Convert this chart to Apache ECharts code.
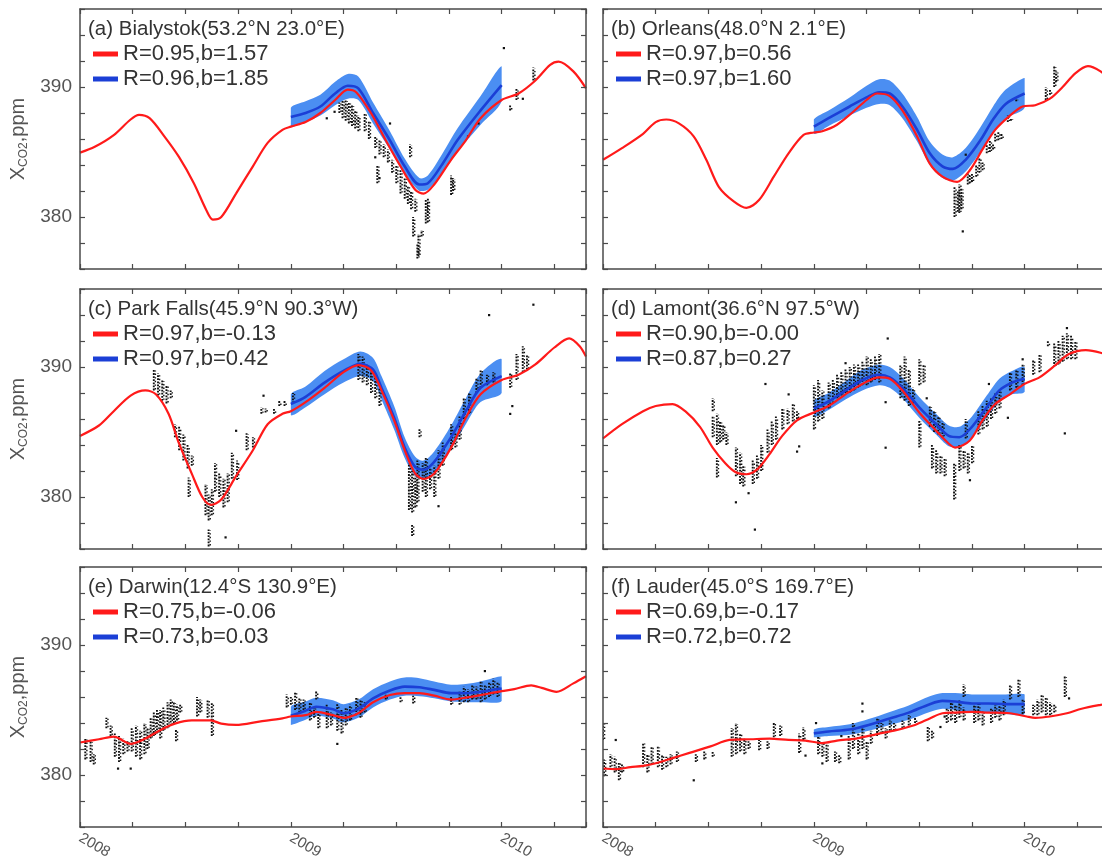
<!DOCTYPE html>
<html>
<head>
  <meta charset="utf-8">
</head>
<body style="margin: 0">
  <div id="container" style="width: 1102px; height: 859px"></div>
  <script src="https://cdn.jsdelivr.net/npm/echarts@6/dist/echarts.min.js"></script>
  <script>
    // panel titles and legend texts
    var titles = ['(a) Bialystok(53.2°N 23.0°E)', '(b) Orleans(48.0°N 2.1°E)', '(c) Park Falls(45.9°N 90.3°W)',
      '(d) Lamont(36.6°N 97.5°W)', '(e) Darwin(12.4°S 130.9°E)', '(f) Lauder(45.0°S 169.7°E)'];
    var redNames = ['R=0.95,b=1.57', 'R=0.97,b=0.56', 'R=0.97,b=-0.13', 'R=0.90,b=-0.00', 'R=0.75,b=-0.06', 'R=0.69,b=-0.17'];
    var blueNames = ['R=0.96,b=1.85', 'R=0.97,b=1.60', 'R=0.97,b=0.42', 'R=0.87,b=0.27', 'R=0.73,b=0.03', 'R=0.72,b=0.72'];
    var yearTicks = [2008, 2009, 2010];
    var ppmTicks = [380, 390];

    // model (red): [year, ppm]
    var redA = [[2008.00,384.95],[2008.07,385.4],[2008.16,386.3],[2008.24,387.5],[2008.28,387.85],[2008.33,387.6],[2008.40,386.2],[2008.47,384.6],[2008.54,382.6],[2008.60,380.5],[2008.63,379.8],[2008.67,380.0],[2008.74,381.8],[2008.82,383.9],[2008.89,385.7],[2008.96,386.7],[2009.00,386.95],[2009.07,387.3],[2009.14,388.0],[2009.21,389.0],[2009.27,389.8],[2009.31,389.6],[2009.38,388.0],[2009.45,385.9],[2009.52,383.9],[2009.59,382.1],[2009.63,381.8],[2009.68,382.5],[2009.76,384.4],[2009.83,385.9],[2009.90,387.6],[2010.00,389.0],[2010.08,389.5],[2010.16,390.5],[2010.23,391.7],[2010.27,391.95],[2010.34,391.2],[2010.40,389.9]];
    var redB = [[2008.00,384.4],[2008.09,385.3],[2008.19,386.4],[2008.25,387.3],[2008.30,387.5],[2008.36,387.2],[2008.43,386.2],[2008.49,384.4],[2008.55,382.3],[2008.62,381.2],[2008.68,380.7],[2008.74,381.3],[2008.81,383.1],[2008.88,384.9],[2008.95,386.3],[2009.00,386.5],[2009.04,386.6],[2009.11,387.1],[2009.18,388.0],[2009.25,389.0],[2009.30,389.5],[2009.36,389.3],[2009.42,388.2],[2009.49,386.2],[2009.55,384.1],[2009.61,383.1],[2009.68,382.7],[2009.74,383.6],[2009.80,385.2],[2009.86,386.7],[2009.93,387.8],[2009.99,388.5],[2010.05,388.6],[2010.12,389.1],[2010.18,390.0],[2010.24,391.05],[2010.30,391.6],[2010.36,391.2],[2010.40,390.6]];
    var redC = [[2008.00,384.7],[2008.09,385.5],[2008.16,386.6],[2008.24,387.8],[2008.31,388.2],[2008.36,387.9],[2008.42,386.4],[2008.47,384.1],[2008.53,381.8],[2008.58,380.0],[2008.62,379.4],[2008.67,379.8],[2008.74,381.6],[2008.82,383.6],[2008.89,385.6],[2008.96,386.4],[2009.00,386.6],[2009.07,387.3],[2009.16,388.4],[2009.25,389.6],[2009.32,390.15],[2009.38,389.75],[2009.43,388.2],[2009.49,385.9],[2009.54,383.6],[2009.59,381.8],[2009.63,381.4],[2009.68,381.8],[2009.76,383.8],[2009.83,386.1],[2009.90,387.9],[2010.00,389.0],[2010.08,389.4],[2010.16,390.2],[2010.25,391.5],[2010.32,392.2],[2010.37,391.6],[2010.40,390.8]];
    var redD = [[2008.00,384.5],[2008.09,385.6],[2008.19,386.6],[2008.25,387.0],[2008.33,387.15],[2008.39,386.6],[2008.46,385.4],[2008.52,383.8],[2008.58,382.6],[2008.63,381.9],[2008.68,381.75],[2008.73,382.1],[2008.79,383.3],[2008.85,384.7],[2008.92,385.9],[2009.00,386.5],[2009.07,387.0],[2009.15,387.9],[2009.23,388.7],[2009.31,389.2],[2009.36,389.1],[2009.42,388.2],[2009.50,386.5],[2009.58,385.1],[2009.64,384.1],[2009.67,383.8],[2009.74,384.35],[2009.80,385.9],[2009.86,387.15],[2009.93,387.9],[2010.00,388.7],[2010.07,389.2],[2010.15,390.2],[2010.21,391.0],[2010.29,391.3],[2010.36,391.1],[2010.40,390.8]];
    var redE = [[2008.00,382.5],[2008.09,382.75],[2008.16,382.95],[2008.24,382.4],[2008.31,382.8],[2008.38,383.45],[2008.45,383.95],[2008.53,384.2],[2008.62,384.2],[2008.67,383.95],[2008.74,383.85],[2008.85,384.1],[2008.96,384.35],[2009.00,384.5],[2009.07,384.6],[2009.12,384.85],[2009.20,384.6],[2009.25,384.4],[2009.32,384.75],[2009.39,385.6],[2009.47,386.15],[2009.54,386.3],[2009.61,386.3],[2009.68,386.1],[2009.76,385.8],[2009.83,385.95],[2009.90,386.15],[2010.00,386.45],[2010.06,386.6],[2010.14,386.9],[2010.19,386.7],[2010.26,386.4],[2010.34,387.05],[2010.40,387.6]];
    var redF = [[2008.00,380.5],[2008.06,380.45],[2008.13,380.6],[2008.19,380.7],[2008.25,380.9],[2008.33,381.3],[2008.41,381.7],[2008.51,382.2],[2008.60,382.7],[2008.70,382.75],[2008.79,382.8],[2008.88,382.7],[2008.96,382.65],[2009.04,382.45],[2009.11,382.65],[2009.20,382.8],[2009.30,383.15],[2009.39,383.45],[2009.48,383.85],[2009.55,384.35],[2009.61,384.75],[2009.67,384.8],[2009.75,384.85],[2009.83,384.8],[2009.93,384.75],[2010.01,384.5],[2010.05,384.4],[2010.12,384.5],[2010.20,384.75],[2010.27,385.1],[2010.36,385.4],[2010.40,385.5]];

    // satellite (blue): [year, ppm, band low, band high]
    var blueA = [[2009.00,387.7,387.0,388.4],[2009.07,388.0,387.3,388.9],[2009.14,388.5,387.8,389.4],[2009.21,389.5,388.6,390.4],[2009.27,390.1,389.1,391.0],[2009.32,389.9,389.0,390.8],[2009.39,388.0,387.2,388.8],[2009.47,385.9,385.2,386.6],[2009.54,383.9,383.3,384.5],[2009.61,382.5,382.0,383.0],[2009.65,382.6,382.1,383.2],[2009.72,384.1,383.4,384.9],[2009.79,385.9,385.0,386.8],[2009.90,388.2,387.1,389.3],[2010.00,390.15,388.9,391.6]];
    var blueB = [[2009.00,386.95,386.4,387.5],[2009.07,387.6,387.0,388.2],[2009.17,388.5,387.8,389.2],[2009.25,389.2,388.4,390.1],[2009.31,389.6,388.7,390.6],[2009.36,389.5,388.6,390.5],[2009.42,388.5,387.6,389.5],[2009.49,386.7,385.8,387.7],[2009.55,384.9,384.0,385.8],[2009.61,383.9,383.0,384.8],[2009.66,383.7,382.8,384.6],[2009.72,384.4,383.5,385.3],[2009.79,385.9,385.0,386.9],[2009.85,387.5,386.5,388.5],[2009.91,388.7,387.6,389.8],[2010.00,389.5,388.4,390.7]];
    var blueC = [[2009.00,387.15,386.3,387.9],[2009.07,387.7,386.9,388.5],[2009.16,388.8,387.9,389.7],[2009.25,389.7,388.8,390.6],[2009.33,390.25,389.3,391.2],[2009.39,389.8,388.9,390.7],[2009.43,388.4,387.5,389.3],[2009.49,386.1,385.2,387.0],[2009.54,383.8,383.0,384.6],[2009.59,382.3,381.6,383.1],[2009.63,382.1,381.4,382.8],[2009.68,382.7,381.9,383.5],[2009.76,384.6,383.7,385.5],[2009.83,386.6,385.6,387.6],[2009.90,388.4,387.3,389.5],[2010.00,389.3,388.0,390.6]];
    var blueD = [[2009.00,386.8,386.2,387.4],[2009.07,387.35,386.7,388.0],[2009.15,388.2,387.5,388.9],[2009.23,389.0,388.2,389.8],[2009.31,389.4,388.6,390.2],[2009.36,389.2,388.4,390.0],[2009.42,388.4,387.6,389.2],[2009.50,386.9,386.1,387.7],[2009.58,385.6,384.8,386.4],[2009.64,384.7,383.9,385.5],[2009.69,384.6,383.8,385.4],[2009.75,385.4,384.6,386.2],[2009.82,386.9,386.1,387.8],[2009.88,388.2,387.3,389.1],[2009.94,388.8,387.9,389.7],[2010.00,389.1,388.1,390.0]];
    var blueE = [[2009.00,384.55,383.85,385.25],[2009.07,384.95,384.25,385.65],[2009.12,385.25,384.55,385.95],[2009.20,385.05,384.35,385.75],[2009.25,384.75,384.05,385.45],[2009.32,385.1,384.4,385.8],[2009.39,385.9,385.2,386.6],[2009.47,386.5,385.8,387.2],[2009.54,386.8,386.1,387.5],[2009.61,386.75,386.05,387.45],[2009.68,386.55,385.9,387.2],[2009.76,386.3,385.65,386.95],[2009.83,386.3,385.6,387.0],[2009.90,386.4,385.6,387.2],[2010.00,386.65,385.7,387.6]];
    var blueF = [[2009.00,383.2,382.9,383.5],[2009.07,383.35,383.0,383.7],[2009.17,383.5,383.1,383.9],[2009.26,383.85,383.4,384.3],[2009.36,384.35,383.85,384.85],[2009.45,384.8,384.25,385.35],[2009.55,385.45,384.85,386.05],[2009.61,385.7,385.1,386.3],[2009.67,385.65,385.0,386.3],[2009.75,385.5,384.8,386.2],[2009.83,385.5,384.8,386.2],[2009.91,385.45,384.7,386.2],[2010.00,385.45,384.7,386.2]];

    // station observations (black): [year, low, high] of each daily streak
    var dotsA = [[2009.17,387.6,387.6],[2009.207,388.1,388.1],[2009.23,388.0,388.8],[2009.245,387.6,389.0],[2009.26,387.4,389.0],[2009.275,387.2,388.8],[2009.29,387.0,388.6],[2009.305,386.8,388.2],[2009.32,386.6,387.8],[2009.35,386.6,388.0],[2009.37,386.0,387.4],[2009.40,385.3,386.2],[2009.42,384.8,386.0],[2009.44,384.6,385.6],[2009.46,384.2,385.2],[2009.40,384.6,384.6],[2009.41,382.6,384.0],[2009.42,383.0,383.0],[2009.47,387.2,387.2],[2009.48,383.4,384.4],[2009.50,382.6,384.0],[2009.52,381.8,383.6],[2009.54,381.4,383.0],[2009.555,381.0,382.4],[2009.57,380.6,382.0],[2009.59,380.4,381.4],[2009.565,384.6,385.6],[2009.58,378.5,380.0],[2009.60,376.8,378.0],[2009.605,377.0,378.7],[2009.64,379.5,381.3],[2009.65,379.6,381.4],[2009.62,378.5,379.0],[2009.76,381.7,383.2],[2009.77,382.0,383.0],[2009.84,386.2,386.2],[2009.89,387.2,387.2],[2010.01,393.0,393.0],[2010.04,388.2,388.6],[2010.07,389.0,389.9],[2010.10,389.1,389.1],[2010.15,390.5,391.5]];
    var dotsB = [[2009.667,380.0,382.3],[2009.683,380.4,382.0],[2009.69,380.3,382.5],[2009.70,380.6,382.2],[2009.706,378.9,378.9],[2009.73,382.5,383.4],[2009.74,382.6,383.2],[2009.75,382.7,383.3],[2009.72,384.8,384.8],[2009.77,383.1,384.0],[2009.785,383.4,384.6],[2009.80,383.6,384.2],[2009.82,384.9,385.6],[2009.835,385.0,385.9],[2009.85,385.2,385.6],[2009.86,385.8,386.4],[2009.875,385.9,386.6],[2009.89,386.0,386.4],[2009.92,387.3,387.8],[2009.935,387.4,387.6],[2009.96,388.9,389.1],[2010.10,389.0,390.0],[2010.12,389.4,389.8],[2010.14,390.0,391.6],[2010.15,390.4,391.2]];
    var dotsC = [[2008.35,388.2,389.8],[2008.37,387.8,389.5],[2008.39,387.4,389.0],[2008.41,387.2,388.6],[2008.43,387.6,388.2],[2008.45,384.6,385.6],[2008.47,383.6,385.4],[2008.49,382.8,384.8],[2008.51,382.2,384.0],[2008.53,382.4,383.2],[2008.515,380.0,381.5],[2008.595,378.6,381.0],[2008.61,378.2,380.2],[2008.625,378.6,380.6],[2008.61,376.2,377.5],[2008.64,380.4,382.6],[2008.66,380.0,381.8],[2008.68,379.2,381.4],[2008.70,379.6,381.8],[2008.69,376.9,376.9],[2008.72,381.4,383.4],[2008.745,381.3,382.8],[2008.74,385.1,385.1],[2008.79,383.6,384.9],[2008.82,383.8,384.6],[2008.86,386.4,386.9],[2008.88,386.5,386.8],[2008.87,387.8,387.8],[2008.92,386.4,386.8],[2008.945,387.0,387.4],[2008.97,387.0,387.4],[2009.01,387.2,388.0],[2009.32,389.0,391.0],[2009.34,388.8,390.8],[2009.36,388.6,390.2],[2009.38,388.0,389.8],[2009.40,387.6,389.2],[2009.42,387.0,388.4],[2009.56,379.0,382.6],[2009.575,378.8,382.0],[2009.59,379.2,381.6],[2009.60,379.6,382.8],[2009.575,377.0,377.9],[2009.625,380.4,382.6],[2009.64,380.0,383.0],[2009.66,380.6,382.2],[2009.68,380.0,382.4],[2009.70,381.4,383.6],[2009.72,382.4,384.2],[2009.61,384.6,385.3],[2009.70,379.3,379.3],[2009.76,383.6,385.6],[2009.78,383.8,385.0],[2009.80,384.4,386.2],[2009.82,386.0,387.6],[2009.845,386.4,388.0],[2009.88,388.0,389.2],[2009.90,388.4,389.8],[2009.93,388.6,389.4],[2009.96,388.8,389.6],[2010.04,388.4,389.6],[2010.07,389.0,391.0],[2010.10,389.6,391.6],[2010.12,389.8,391.0],[2010.04,386.4,386.4],[2010.05,387.0,387.0],[2009.94,394.0,394.0],[2010.15,394.8,394.8]];
    var dotsD = [[2008.52,384.6,386.2],[2008.54,384.0,386.4],[2008.555,384.2,385.8],[2008.57,384.4,385.6],[2008.585,384.0,385.0],[2008.52,386.6,387.6],[2008.54,381.5,383.0],[2008.63,381.6,383.8],[2008.65,381.0,383.4],[2008.665,380.8,382.4],[2008.63,379.6,379.6],[2008.69,380.3,380.3],[2008.72,377.5,377.5],[2008.71,381.0,382.8],[2008.73,381.4,383.2],[2008.75,382.0,384.0],[2008.77,388.7,388.7],[2008.78,383.4,385.2],[2008.80,384.0,385.8],[2008.82,384.4,386.2],[2008.85,385.2,386.8],[2008.875,385.6,386.8],[2008.90,385.8,387.2],[2008.92,386.0,386.6],[2008.88,387.9,387.9],[2008.93,383.9,383.9],[2008.92,383.5,383.5],[2009.00,385.2,388.6],[2009.02,385.8,389.0],[2009.04,386.0,388.2],[2009.07,386.8,388.8],[2009.09,387.2,389.0],[2009.11,387.6,389.4],[2009.13,387.8,389.6],[2009.15,388.0,389.8],[2009.17,388.0,390.0],[2009.19,388.2,390.2],[2009.21,388.4,390.2],[2009.15,390.3,390.3],[2009.23,388.6,390.4],[2009.25,388.6,390.8],[2009.27,388.8,390.6],[2009.29,389.0,390.8],[2009.31,388.8,391.0],[2009.35,392.2,392.2],[2009.34,383.8,383.8],[2009.34,387.3,387.3],[2009.41,387.6,390.2],[2009.43,387.4,390.8],[2009.45,387.0,389.8],[2009.47,387.2,388.4],[2009.50,388.6,390.6],[2009.52,388.8,390.2],[2009.535,387.6,387.6],[2009.50,383.8,385.9],[2009.55,385.4,387.0],[2009.57,385.0,386.6],[2009.59,384.8,386.2],[2009.61,384.6,385.8],[2009.56,382.2,384.0],[2009.58,381.8,383.6],[2009.60,381.8,383.2],[2009.62,381.6,383.0],[2009.665,379.8,382.6],[2009.69,382.0,384.0],[2009.71,382.2,383.6],[2009.73,381.8,383.4],[2009.75,382.6,384.0],[2009.74,381.3,381.3],[2009.72,384.5,386.0],[2009.78,384.8,386.6],[2009.80,385.2,387.0],[2009.82,385.4,387.4],[2009.84,386.0,387.6],[2009.86,386.4,388.0],[2009.88,386.8,388.2],[2009.83,388.7,388.7],[2009.92,386.1,386.1],[2009.93,388.2,389.6],[2009.96,388.4,389.8],[2009.99,388.6,390.2],[2009.99,390.6,390.6],[2010.04,389.4,390.6],[2010.07,389.6,391.0],[2010.11,391.6,392.0],[2010.14,390.0,391.8],[2010.16,390.2,392.0],[2010.18,390.4,392.4],[2010.20,390.6,392.6],[2010.22,390.6,392.4],[2010.24,390.6,392.0],[2010.20,393.0,393.0],[2010.19,384.9,384.9]];
    var dotsE = [[2008.025,381.2,382.8],[2008.05,381.0,382.6],[2008.065,380.8,381.6],[2008.125,383.6,384.4],[2008.145,383.0,383.8],[2008.165,381.4,383.2],[2008.185,381.0,383.0],[2008.205,381.6,382.8],[2008.225,381.8,382.6],[2008.18,380.5,380.5],[2008.24,380.5,380.5],[2008.245,381.8,383.6],[2008.265,381.4,383.8],[2008.285,381.2,383.4],[2008.305,381.6,384.0],[2008.32,382.0,383.6],[2008.335,382.8,384.4],[2008.35,383.0,384.8],[2008.365,383.2,385.0],[2008.38,382.8,385.0],[2008.395,383.4,385.2],[2008.415,383.6,385.6],[2008.43,383.8,385.8],[2008.445,384.0,385.6],[2008.46,384.2,385.4],[2008.475,384.8,385.4],[2008.455,382.6,383.5],[2008.555,384.5,386.0],[2008.57,384.8,385.8],[2008.605,384.4,385.8],[2008.625,383.0,385.6],[2008.98,385.2,386.2],[2009.00,385.4,386.0],[2009.02,385.0,386.4],[2009.04,384.8,386.0],[2009.06,385.0,385.8],[2009.09,384.2,385.6],[2009.11,384.4,385.2],[2009.13,383.6,384.8],[2009.12,385.8,386.5],[2009.17,383.6,385.4],[2009.19,383.8,384.8],[2009.22,383.4,385.5],[2009.24,383.2,385.0],[2009.26,383.8,385.2],[2009.28,384.2,385.4],[2009.22,382.4,382.4],[2009.31,384.6,386.0],[2009.33,384.4,385.8],[2009.35,384.8,385.6],[2009.45,385.8,386.2],[2009.52,385.6,386.0],[2009.58,385.5,386.1],[2009.76,385.4,386.0],[2009.80,385.4,386.4],[2009.82,385.6,386.8],[2009.84,385.6,386.6],[2009.86,385.8,387.0],[2009.88,385.8,386.8],[2009.90,385.6,387.2],[2009.92,385.8,387.0],[2009.94,386.0,387.2],[2009.96,386.2,387.4],[2009.98,386.0,387.2],[2009.92,388.0,388.0]];
    var dotsF = [[2008.00,382.7,384.0],[2008.005,379.9,381.2],[2008.035,380.6,381.6],[2008.055,380.2,381.4],[2008.075,379.6,381.0],[2008.09,380.2,380.8],[2008.06,382.7,382.7],[2008.19,380.6,382.5],[2008.21,380.2,381.6],[2008.23,380.8,382.2],[2008.26,380.6,382.2],[2008.28,380.4,381.6],[2008.30,380.6,381.4],[2008.32,380.8,381.6],[2008.35,381.0,381.8],[2008.43,379.6,379.6],[2008.44,381.0,381.6],[2008.48,381.2,381.8],[2008.52,381.4,381.8],[2008.61,381.4,383.6],[2008.63,381.6,384.0],[2008.65,381.8,383.2],[2008.67,381.6,382.8],[2008.69,382.0,382.6],[2008.74,381.9,382.7],[2008.78,382.0,382.6],[2008.81,382.9,384.1],[2008.84,383.0,383.8],[2008.93,381.7,383.2],[2008.95,382.7,383.7],[2008.96,381.5,381.5],[2009.01,384.0,384.0],[2009.02,381.6,383.0],[2009.04,381.4,382.6],[2009.06,381.0,382.4],[2009.04,380.9,380.9],[2009.10,381.0,381.8],[2009.12,380.9,381.6],[2009.13,383.0,383.0],[2009.165,381.2,383.0],[2009.185,382.0,384.0],[2009.23,385.5,385.5],[2009.23,384.9,384.9],[2009.21,381.6,383.2],[2009.23,382.0,383.6],[2009.25,381.2,382.6],[2009.27,382.4,383.4],[2009.30,383.0,384.4],[2009.32,383.2,384.0],[2009.34,382.8,383.6],[2009.36,383.4,384.2],[2009.38,383.4,384.0],[2009.42,383.6,384.2],[2009.45,383.8,384.6],[2009.48,384.0,384.4],[2009.54,382.6,383.7],[2009.56,382.8,383.4],[2009.60,383.7,383.7],[2009.62,384.5,384.5],[2009.63,384.0,385.2],[2009.65,384.2,385.6],[2009.67,384.0,385.4],[2009.69,384.4,385.8],[2009.71,384.2,385.2],[2009.71,386.0,387.0],[2009.76,384.0,385.4],[2009.78,384.2,385.6],[2009.80,383.8,385.0],[2009.84,384.0,385.2],[2009.86,384.4,385.4],[2009.88,384.2,385.6],[2009.90,384.6,385.8],[2009.93,385.8,387.0],[2009.97,386.0,387.4],[2009.99,384.7,385.8],[2010.04,384.6,385.4],[2010.06,384.6,385.8],[2010.08,384.8,386.2],[2010.10,384.6,386.0],[2010.12,384.6,385.6],[2010.14,384.8,385.4],[2010.19,386.0,387.6],[2010.21,385.9,385.9]];

    var reds = [redA, redB, redC, redD, redE, redF];
    var blues = [blueA, blueB, blueC, blueD, blueE, blueF];
    var dots = [dotsA, dotsB, dotsC, dotsD, dotsE, dotsF];

    var colLeft = [80, 603];
    var rowTop = [9, 289, 567];
    var gridW = 506, gridH = 260;
    var font = 'Liberation Sans, Arial, Helvetica, sans-serif';
    var frameColor = '#4a4a4a';
    var bandColor = '#4b8ef2';

    var dom = document.getElementById('container');
    var myChart = echarts.init(dom, null, { renderer: 'canvas' });

    // the uncertainty band of the satellite curve, drawn once as a closed smooth polygon
    function makeBand(arr) {
      return function (params, api) {
        if (params.dataIndex !== 0) return null;
        var pts = [];
        for (var k = 0; k < arr.length; k++) pts.push(api.coord([arr[k][0], arr[k][3]]));
        for (k = arr.length - 1; k >= 0; k--) pts.push(api.coord([arr[k][0], arr[k][2]]));
        var xs = pts.map(function (p) { return p[0]; }), ys = pts.map(function (p) { return p[1]; });
        var box = [[Math.min.apply(null, xs), Math.min.apply(null, ys)], [Math.max.apply(null, xs), Math.max.apply(null, ys)]];
        return {
          type: 'polygon',
          shape: { points: pts, smooth: 0.3, smoothConstraint: box },
          style: { fill: bandColor }
        };
      };
    }

    // each observation day: a column of small dots
    function renderDots(params, api) {
      var x = api.value(0), lo = api.value(1), hi = api.value(2);
      var a = api.coord([x, lo]), b = api.coord([x, hi]);
      if (Math.abs(a[1] - b[1]) < 2) {
        return { type: 'rect', shape: { x: a[0] - 1, y: a[1] - 1, width: 2.2, height: 2.2 }, style: { fill: '#111' } };
      }
      return {
        type: 'group',
        children: [
          { type: 'line', shape: { x1: a[0], y1: a[1], x2: b[0], y2: b[1] },
            style: { stroke: '#111', lineWidth: 1.9, lineDash: [1.8, 1.3] } },
          { type: 'line', shape: { x1: a[0] + 1.6, y1: a[1] - 1, x2: b[0] + 1.6, y2: b[1] + 1 },
            style: { stroke: '#111', lineWidth: 1.4, lineDash: [1.4, 2.2] } }
        ]
      };
    }

    var grid = [], xAxis = [], yAxis = [], series = [], title = [], legend = [];

    for (var i = 0; i < 6; i++) {
      var row = Math.floor(i / 2), col = i % 2;
      grid.push({ left: colLeft[col], top: rowTop[row], width: gridW, height: gridH, outerBoundsMode: 'none' });

      var tickStyle = { show: true, inside: true, length: 5, lineStyle: { color: frameColor, width: 1.2 } };
      var lineStyle = { show: true, onZero: false, lineStyle: { color: frameColor, width: 1.5 } };

      xAxis.push({
        gridIndex: i, type: 'value', min: 2008, max: 2010.4, interval: 0.25, position: 'bottom', z: 6,
        axisLine: lineStyle, axisTick: tickStyle, splitLine: { show: false },
        axisLabel: {
          show: row === 2, rotate: -30, margin: 10, fontSize: 15, color: '#555', fontFamily: font,
          formatter: function (v) { return yearTicks.indexOf(v) >= 0 ? String(v) : ''; }
        }
      });
      xAxis.push({
        gridIndex: i, type: 'value', min: 2008, max: 2010.4, interval: 0.25, position: 'top', z: 6,
        axisLine: lineStyle, axisTick: tickStyle, splitLine: { show: false }, axisLabel: { show: false }
      });

      yAxis.push({
        gridIndex: i, type: 'value', min: 376, max: 396, interval: 2, position: 'left', z: 6,
        axisLine: lineStyle, axisTick: tickStyle, splitLine: { show: false },
        axisLabel: {
          show: col === 0, margin: 8, fontSize: 19, color: '#555', fontFamily: font,
          formatter: function (v) { return ppmTicks.indexOf(v) >= 0 ? String(v) : ''; }
        },
        name: col === 0 ? '{x|X}{s|CO2}{x|,ppm}' : '',
        nameLocation: 'middle', nameGap: 50,
        nameTextStyle: {
          rich: {
            x: { fontSize: 20, lineHeight: 24, color: '#555', fontFamily: font },
            s: { fontSize: 12, lineHeight: 13, verticalAlign: 'bottom', color: '#555', fontFamily: font }
          }
        }
      });
      yAxis.push({
        gridIndex: i, type: 'value', min: 376, max: 396, interval: 2, position: 'right', z: 6,
        axisLine: lineStyle, axisTick: tickStyle, splitLine: { show: false }, axisLabel: { show: false }
      });

      var b = blues[i];
      series.push({
        type: 'custom', xAxisIndex: 2 * i, yAxisIndex: 2 * i, silent: true, clip: true, z: 2,
        renderItem: makeBand(b), encode: { x: 0, y: [2, 3] },
        data: b
      });
      series.push({
        type: 'custom', xAxisIndex: 2 * i, yAxisIndex: 2 * i, silent: true, clip: true, z: 3,
        renderItem: renderDots, encode: { x: 0, y: [1, 2] },
        data: dots[i]
      });
      series.push({
        type: 'line', name: blueNames[i], xAxisIndex: 2 * i, yAxisIndex: 2 * i, z: 4,
        symbol: 'none', smooth: 0.3, color: '#1b3fd6', lineStyle: { width: 2.6, color: '#1b3fd6' },
        data: b.map(function (d) { return [d[0], d[1]]; })
      });
      series.push({
        type: 'line', name: redNames[i], xAxisIndex: 2 * i, yAxisIndex: 2 * i, z: 5,
        symbol: 'none', smooth: 0.3, color: '#ff1a1a', lineStyle: { width: 2.2, color: '#ff1a1a' },
        data: reds[i]
      });

      title.push({
        text: titles[i], left: colLeft[col] + 8, top: rowTop[row] + 10, padding: 0,
        textStyle: { fontSize: 20.5, fontWeight: 'normal', color: '#333', fontFamily: font }
      });
      legend.push({
        data: [redNames[i], blueNames[i]], orient: 'vertical', left: colLeft[col] + 13, top: rowTop[row] + 34,
        padding: 0, itemWidth: 25, itemHeight: 5, itemGap: 3, icon: 'rect', selectedMode: false,
        textStyle: { fontSize: 22, color: '#333', fontFamily: font }
      });
    }

    var option = {
      animation: false,
      backgroundColor: '#fff',
      textStyle: { fontFamily: font },
      title: title,
      legend: legend,
      grid: grid,
      xAxis: xAxis,
      yAxis: yAxis,
      series: series
    };

    myChart.setOption(option);
    window.addEventListener('resize', myChart.resize);
  </script>
</body>
</html>
